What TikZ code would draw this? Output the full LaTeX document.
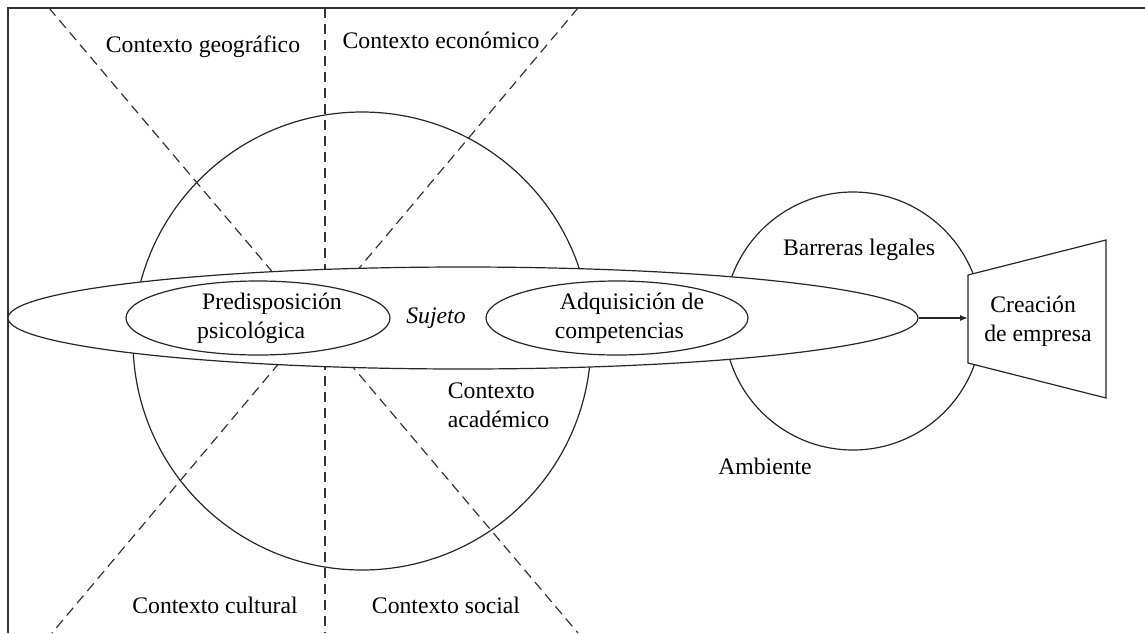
\documentclass[tikz,border=0pt]{standalone}
\usepackage{fontspec}
\setmainfont{Liberation Serif}
\usetikzlibrary{shapes.geometric,arrows.meta}
\begin{document}
\begin{tikzpicture}[x=0.5pt,y=-0.5pt,
  lbl/.style={font=\fontsize{11.85}{14.5}\selectfont, inner sep=0pt},
  dsh/.style={line width=0.6pt, black!80, dash pattern=on 5pt off 3pt},
  ln/.style={line width=0.6pt, black!85},
  ell/.style={ellipse, draw, ln, fill=white, inner sep=0pt},
]
\useasboundingbox (0,0) rectangle (1145,633);
% frame
\coordinate (fbl) at (8,633); \coordinate (ftl) at (8,8); \coordinate (ftr) at (1145,8);
\draw[line width=0.9pt, black!80] (fbl) -- (ftl) -- (ftr);
% big circle
\node[circle, draw, ln, minimum size=229pt, inner sep=0pt] (bigc) at (362,341) {};
% dashed sector lines
\coordinate (va) at (325,8);  \coordinate (vb) at (325,633);
\coordinate (d1a) at (49,8);  \coordinate (d1b) at (578,633);
\coordinate (d2a) at (578,8); \coordinate (d2b) at (52,633);
\draw[dsh] (va) -- (vb);
\draw[dsh] (d1a) -- (d1b);
\draw[dsh] (d2a) -- (d2b);
% right circle
\node[circle, draw, ln, minimum size=129pt, inner sep=0pt] (rc) at (853,321) {};
% subject ellipse
\node[ell, minimum width=455pt, minimum height=51pt] (suj) at (463,318) {};
\node[ell, minimum width=132pt, minimum height=37pt] (pre) at (258,318) {};
\node[ell, minimum width=131pt, minimum height=37pt] (adq) at (617,318) {};
\node[lbl, align=left] (pret) at (269.5,318) {\hspace{2.5pt}Predisposición\\psicológica};
\node[lbl, align=left] (adqt) at (629.5,318) {\hspace{2.5pt}Adquisición de\\competencias};
\node[lbl, font=\fontsize{11.85}{14.5}\selectfont\itshape] (sujt) at (436,318) {Sujeto};
% creation trapezoid
\coordinate (t1) at (968,275); \coordinate (t2) at (1106,240);
\coordinate (t3) at (1106,398); \coordinate (t4) at (968,363);
\draw[ln, fill=white] (t1) -- (t2) -- (t3) -- (t4) -- cycle;
\coordinate (ceL) at (968,318);
\node[lbl, align=left] (ce) at (1038,321) {\hspace{3pt}Creación\\de empresa};
\draw[ln, -{Latex[length=4pt,width=3pt]}] (suj.east) -- (ceL);
% labels
\node[lbl, anchor=base] (geo) at (203,52) {Contexto geográfico};
\node[lbl, anchor=base] (eco) at (441,48) {Contexto económico};
\node[lbl, anchor=base] (cul) at (215,613) {Contexto cultural};
\node[lbl, anchor=base] (soc) at (446,613) {Contexto social};
\node[lbl, align=left] (aca) at (498.5,405) {Contexto\\académico};
\node[lbl, anchor=base] (bar) at (859,255) {Barreras legales};
\node[lbl, anchor=base] (amb) at (765,474) {Ambiente};
\end{tikzpicture}
\end{document}
